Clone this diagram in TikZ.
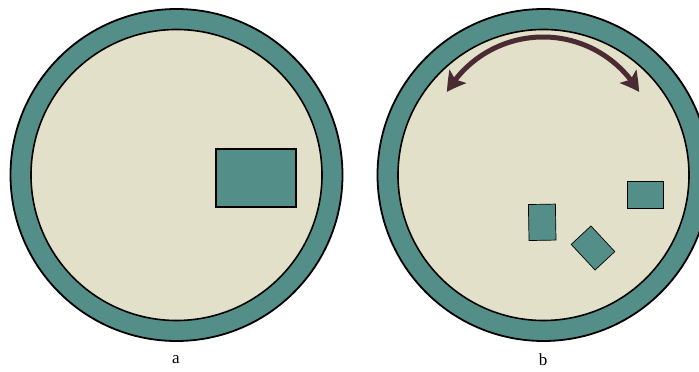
\documentclass[tikz,border=0pt]{standalone}
\usepackage{fontspec}
\setmainfont{Liberation Serif}
\usetikzlibrary{arrows.meta,bending,calc}
\definecolor{teal}{HTML}{548E88}
\definecolor{cream}{HTML}{E2E0C9}
\definecolor{maroon}{HTML}{4A2A33}
\tikzset{
  ring/.style={draw=black, line width=1.8pt, fill=teal},
  dish/.style={draw=black, line width=1.6pt, fill=cream},
  bigpiece/.style={draw=black, line width=1.8pt, fill=teal, inner sep=0pt},
  piece/.style={draw=black, line width=0.7pt, fill=teal, inner sep=0pt},
  lab/.style={font=\fontsize{17}{19}\selectfont, inner sep=0pt},
  swirl/.style={draw=maroon, line width=5pt, {Stealth[length=19pt,width=21pt,inset=4pt,bend]}-{Stealth[length=19pt,width=21pt,inset=4pt,bend]}}
}
\begin{document}
\begin{tikzpicture}[x=1pt,y=-1pt]
\useasboundingbox (0,0) rectangle (699,372);
\clip (0,0) rectangle (699,372);
% dish a
\coordinate (ca) at (176.5,175);
\draw[ring] (ca) circle[radius=166];
\draw[dish] (ca) circle[radius=145.5];
\node[bigpiece, minimum width=80pt, minimum height=58pt] (ra) at (256,178) {};
\node[lab] (la) at (176,360) {a};
% dish b
\coordinate (cb) at (543.5,175);
\draw[ring] (cb) circle[radius=166];
\draw[dish] (cb) circle[radius=145.5];
\node[piece, minimum width=27pt, minimum height=36pt, rotate=1] (r1) at (542.2,222.3) {};
\node[piece, minimum width=36pt, minimum height=27pt] (r2) at (645.3,194.5) {};
\node[piece, minimum width=35pt, minimum height=27pt, rotate=-47] (r3) at (593,248) {};
\coordinate (ac) at (543,148.3);
\draw[swirl] ($(ac)+(-149.6:111.3)$) arc[start angle=-149.6, end angle=-30.4, radius=111.3];
\node[lab] (lb) at (543,360) {b};
\end{tikzpicture}
\end{document}
